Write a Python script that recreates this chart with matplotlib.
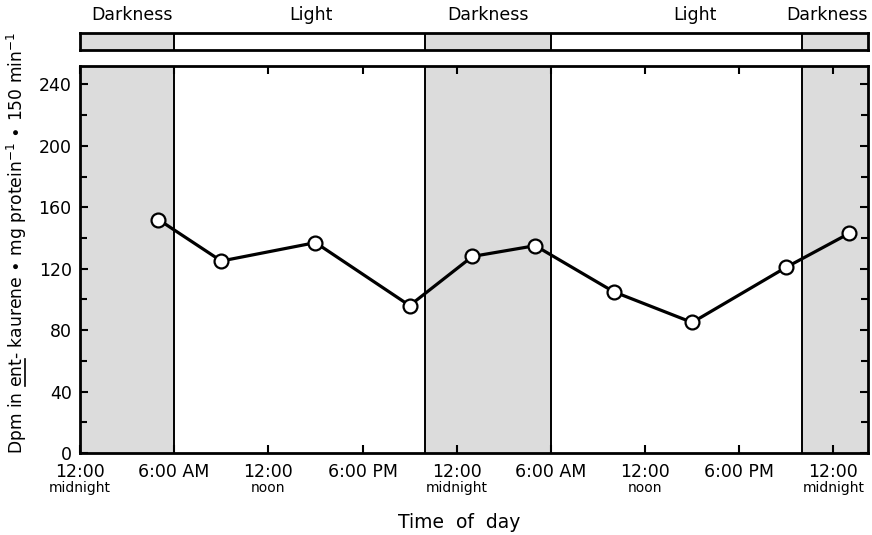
import matplotlib
matplotlib.use("Agg")
import matplotlib.pyplot as plt
from matplotlib.lines import Line2D

# time of day in hours from the first midnight
hours = [5, 9, 15, 21, 25, 29, 34, 39, 45, 49]
dpm = [152, 125, 137, 96, 128, 135, 105, 85, 121, 143]

tick_hours = [0, 6, 12, 18, 24, 30, 36, 42, 48]
tick_top = ["12:00", "6:00 AM", "12:00", "6:00 PM", "12:00", "6:00 AM", "12:00", "6:00 PM", "12:00"]
tick_sub = ["midnight", "", "noon", "", "midnight", "", "noon", "", "midnight"]

dark_periods = [(0, 6), (22, 30), (46, 50.2)]
period_labels = ["Darkness", "Light", "Darkness", "Light", "Darkness"]
period_label_x = [3.3, 14.7, 26.0, 39.2, 50.2]

x_max = 50.2
y_max = 252
shade = "#dcdcdc"

fig = plt.figure(figsize=(8.72, 5.35), dpi=100)
ax = fig.add_axes([80 / 872, 1 - 453 / 535, 788 / 872, 387 / 535])
bar = fig.add_axes([80 / 872, 1 - 50 / 535, 788 / 872, 17 / 535])

for start, end in dark_periods:
    ax.axvspan(start, end, color=shade, lw=0, zorder=0)
    bar.axvspan(start, end, color=shade, lw=0, zorder=0)
for b in [6, 22, 30, 46]:
    ax.axvline(b, color="black", lw=1.4, zorder=1)
    bar.axvline(b, color="black", lw=1.4, zorder=1)

ax.plot(hours, dpm, color="black", lw=2.3, marker="o", markersize=10,
        markerfacecolor="white", markeredgecolor="black", markeredgewidth=1.6, zorder=3)

ax.set_xlim(0, x_max)
ax.set_ylim(0, y_max)
ax.set_yticks(range(0, 241, 40))
ax.set_yticks(range(0, 241, 20), minor=True)
ax.set_xticks(tick_hours)
ax.set_xticklabels(tick_top, fontsize=12.5)
ax.tick_params(axis="both", direction="in", width=1.5, length=6, top=True, right=True)
ax.tick_params(axis="y", which="major", labelsize=12.5, pad=6)
ax.tick_params(axis="y", which="minor", direction="in", width=1.5, length=5, right=True)
ax.tick_params(axis="x", pad=7)
for s in ax.spines.values():
    s.set_linewidth(2)

for h, sub in zip(tick_hours, tick_sub):
    if sub:
        ax.text(h, -0.072, sub, transform=ax.get_xaxis_transform(), ha="center",
                va="top", fontsize=10)

bar.set_xlim(0, x_max)
bar.set_ylim(0, 1)
bar.set_xticks([])
bar.set_yticks([])
for s in bar.spines.values():
    s.set_linewidth(2)
for i, (x, lab) in enumerate(zip(period_label_x, period_labels)):
    bar.text(x, 1.55, lab, ha="right" if i == len(period_labels) - 1 else "center",
             va="bottom", fontsize=12.5)

fig.text(459 / 872, 1 - 522 / 535, "Time  of  day", ha="center", va="center", fontsize=13.5)

ylab_size = 12.3
ylab = fig.text(17 / 872, 0.545,
                r"Dpm in ent- kaurene $\bullet$ mg protein$^{-1}$ $\bullet$ 150 min$^{-1}$",
                rotation=90, ha="center", va="center", fontsize=ylab_size)

# underline "ent" in the y label
renderer = fig.canvas.get_renderer()
full = ylab.get_window_extent(renderer)
t1 = fig.text(0, 0, "Dpm in ", fontsize=ylab_size)
t2 = fig.text(0, 0, "Dpm in ent", fontsize=ylab_size)
a = t1.get_window_extent(renderer).width
b = t2.get_window_extent(renderer).width
t1.remove()
t2.remove()
ux = full.x1 - 4
fig.add_artist(Line2D([ux / fig.bbox.width] * 2,
                      [(full.y0 + a + 1) / fig.bbox.height, (full.y0 + b) / fig.bbox.height],
                      transform=fig.transFigure, color="black", lw=1.2))

fig.savefig("out.png", dpi=100)
